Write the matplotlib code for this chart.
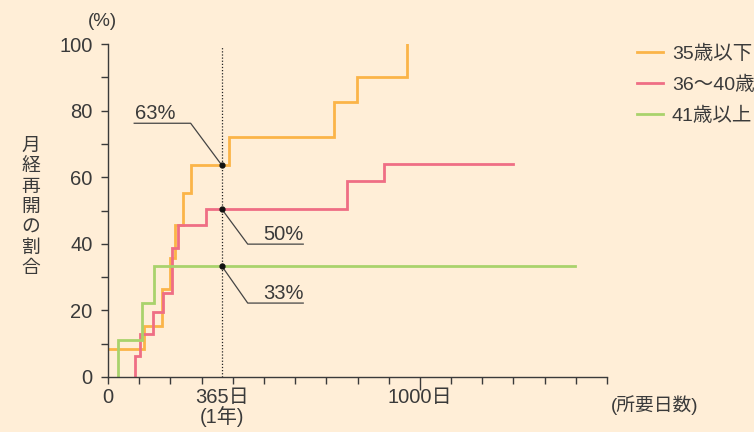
import numpy as np
import matplotlib
matplotlib.use("Agg")
import matplotlib.pyplot as plt

plt.rcParams["font.family"] = ["Liberation Sans", "Noto Sans CJK JP"]

# step data (days, %)
u35_days = [0, 116, 174, 199, 214, 241, 265, 389, 725, 799, 959]
u35_pct = [8.3, 15.4, 26.4, 35.6, 45.6, 55.3, 63.6, 72.2, 82.7, 90.1, 100]

mid_days = [88, 88, 104, 143, 177, 206, 226, 313, 765, 885, 1299]
mid_pct = [0, 6.2, 12.9, 19.4, 25.2, 38.7, 45.6, 50.4, 58.9, 64.1, 64.1]

o41_days = [31, 31, 108, 149, 1497]
o41_pct = [0, 11.1, 22.2, 33.3, 33.3]

series_labels = ["35歳以下", "36〜40歳", "41歳以上"]
series_colors = ["#FBB448", "#EF6E84", "#A9D26C"]

one_year = 365
year_points = [63.6, 50.4, 33.3]
year_texts = ["63%", "50%", "33%"]

y_ticks = [0, 20, 40, 60, 80, 100]
x_tick_pos = [0, 365, 1000]
x_tick_labels = ["0", "365日\n(1年)", "1000日"]

BG = "#FFEED7"
INK = "#3A3A3A"

fig = plt.figure(figsize=(7.54, 4.32), dpi=100, facecolor=BG)
ax = fig.add_axes([108 / 754, 55 / 432, 499 / 754, 333 / 432])
ax.set_facecolor(BG)

lw = 2.0
ax.step(u35_days, u35_pct, where="post", color=series_colors[0], lw=lw,
        label=series_labels[0], solid_joinstyle="miter")
ax.step(mid_days, mid_pct, where="post", color=series_colors[1], lw=lw,
        label=series_labels[1], solid_joinstyle="miter")
ax.step(o41_days, o41_pct, where="post", color=series_colors[2], lw=lw,
        label=series_labels[2], solid_joinstyle="miter")

# 1 year marker
ax.plot([one_year, one_year], [0, 99.5], color="#222222", lw=0.9, ls=(0, (1, 1.5)))
ax.plot([one_year] * 3, year_points, "o", color="#111111", ms=3.5, zorder=5)

# leader lines + labels
lead = dict(color="#444444", lw=0.9)
ax.plot([84, 265, one_year], [76.2, 76.2, year_points[0]], **lead)
ax.text(86, 77.4, year_texts[0], fontsize=14.5, color=INK, ha="left", va="baseline")
ax.plot([one_year, 448, 626], [year_points[1], 39.9, 39.9], **lead)
ax.text(626, 41.1, year_texts[1], fontsize=14.5, color=INK, ha="right", va="baseline")
ax.plot([one_year, 448, 626], [year_points[2], 22.2, 22.2], **lead)
ax.text(626, 23.4, year_texts[2], fontsize=14.5, color=INK, ha="right", va="baseline")

ax.set_xlim(0, 1600)
ax.set_ylim(0, 100)
for s in ["top", "right"]:
    ax.spines[s].set_visible(False)
for s in ["left", "bottom"]:
    ax.spines[s].set_color(INK)
    ax.spines[s].set_linewidth(1.0)

ax.set_yticks(y_ticks)
ax.set_yticks(np.arange(10, 100, 20), minor=True)
ax.set_xticks(x_tick_pos)
ax.set_xticklabels(x_tick_labels, linespacing=0.95)
ax.set_xticks(np.arange(100, 1700, 100), minor=True)
ax.tick_params(axis="both", which="both", direction="out", length=5,
               width=1.0, color=INK, labelcolor=INK, labelsize=14.5)
ax.tick_params(axis="y", pad=6)
ax.tick_params(axis="x", pad=3)

xt = ax.xaxis.get_major_ticks()
xt[1].tick1line.set_markersize(0)
xt[2].tick1line.set_markersize(9.5)

fig.text(102 / 754, 1 - 22 / 432, "(%)", fontsize=13.5, color=INK, ha="center", va="center")
fig.text(655 / 754, 1 - 405 / 432, "(所要日数)", fontsize=13.5, color=INK, ha="center", va="center")

ylab = "月経再開の割合"
for i, ch in enumerate(ylab):
    fig.text(31 / 754, 1 - (146.5 + i * 20.3) / 432, ch, fontsize=13.5, color=INK,
             ha="center", va="center")

leg = ax.legend(loc="upper left", bbox_to_anchor=(637 / 754, 1 - 44.5 / 432),
                bbox_transform=fig.transFigure, frameon=False, fontsize=14,
                handlelength=1.34, handletextpad=0.46, labelspacing=0.67,
                borderaxespad=0, borderpad=0)
for t in leg.get_texts():
    t.set_color(INK)

fig.savefig("out.png", dpi=100, facecolor=BG)
